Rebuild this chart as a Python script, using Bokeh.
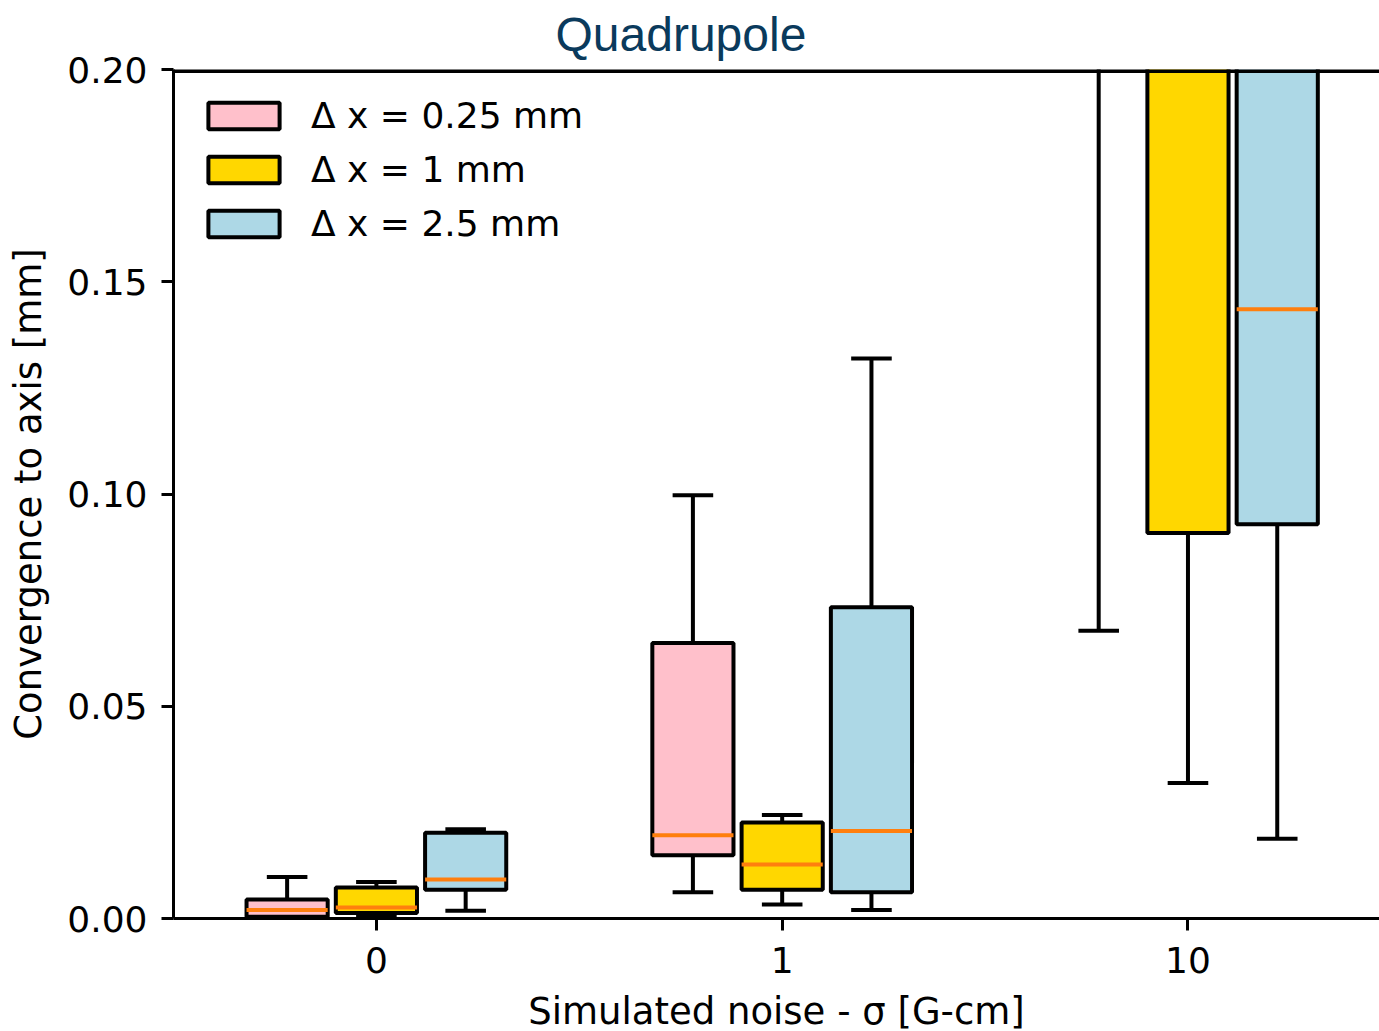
from bokeh.plotting import figure
from bokeh.models import (FixedTicker, PrintfTickFormatter, Legend, LegendItem, Span)
from bokeh.embed import file_html
from bokeh.resources import INLINE

# Noise levels on the x axis
categories = ["0", "1", "10"]

# Grid spacings (one box series each)
series_labels = ["\u0394 x = 0.25 mm", "\u0394 x = 1 mm", "\u0394 x = 2.5 mm"]
series_colors = ["pink", "gold", "lightblue"]

# Box statistics per series, one value per noise level [mm]
whislo_025 = [0.0001, 0.0062, 0.0678]
q1_025 = [0.0004, 0.0149, 0.2300]
med_025 = [0.0020, 0.0196, 0.2800]
q3_025 = [0.0045, 0.0649, 0.3600]
whishi_025 = [0.0098, 0.0997, 0.5200]

whislo_1 = [0.0004, 0.0033, 0.0319]
q1_1 = [0.0013, 0.0068, 0.0908]
med_1 = [0.0026, 0.0127, 0.2100]
q3_1 = [0.0073, 0.0226, 0.2900]
whishi_1 = [0.0086, 0.0244, 0.4200]

whislo_25 = [0.0018, 0.0020, 0.0188]
q1_25 = [0.0068, 0.0062, 0.0929]
med_25 = [0.0092, 0.0206, 0.1435]
q3_25 = [0.0202, 0.0733, 0.2600]
whishi_25 = [0.0210, 0.1319, 0.3800]

stats = [
    (whislo_025, q1_025, med_025, q3_025, whishi_025),
    (whislo_1, q1_1, med_1, q3_1, whishi_1),
    (whislo_25, q1_25, med_25, q3_25, whishi_25),
]

offsets = [-0.22, 0.0, 0.22]
box_w = 0.2
cap_w = 0.1
lw = 4
FONT = "DejaVu Sans"

p = figure(
    width=1379, height=1031,
    frame_width=1206, frame_height=849,
    x_range=(-0.5, 2.472), y_range=(0.0, 0.2),
    output_backend="svg", toolbar_location=None,
    min_border_left=173, min_border_right=0,
    min_border_top=69, min_border_bottom=113,
)
p.outline_line_color = None
p.grid.visible = False
p.background_fill_color = "white"
p.border_fill_color = "white"

legend_items = []
for k, (lo, q1, med, q3, hi) in enumerate(stats):
    xs = [i + offsets[k] for i in range(len(categories))]
    # whiskers
    p.segment(x0=xs, y0=q3, x1=xs, y1=hi, line_color="black", line_width=lw)
    p.segment(x0=xs, y0=q1, x1=xs, y1=lo, line_color="black", line_width=lw)
    # caps
    p.segment(x0=[x - cap_w / 2 for x in xs], y0=hi, x1=[x + cap_w / 2 for x in xs], y1=hi,
              line_color="black", line_width=lw)
    p.segment(x0=[x - cap_w / 2 for x in xs], y0=lo, x1=[x + cap_w / 2 for x in xs], y1=lo,
              line_color="black", line_width=lw)
    # boxes (interquartile range)
    mids = [(a + b) / 2 for a, b in zip(q1, q3)]
    spans = [b - a for a, b in zip(q1, q3)]
    r = p.rect(x=xs, y=mids, width=box_w, height=spans, fill_color=series_colors[k],
               line_color="black", line_width=lw)
    # medians
    p.segment(x0=[x - box_w / 2 for x in xs], y0=med, x1=[x + box_w / 2 for x in xs], y1=med,
              line_color="#ff7f0e", line_width=lw)
    legend_items.append(LegendItem(label=series_labels[k], renderers=[r]))

# top spine
p.add_layout(Span(location=0.2, dimension="width", line_color="black", line_width=7))

legend = Legend(items=legend_items, location="top_left")
legend.margin = 26
legend.padding = 0
legend.spacing = 13
legend.glyph_width = 89
legend.glyph_height = 33
legend.label_standoff = 23
legend.label_text_font = FONT
legend.label_text_font_size = "36px"
legend.label_text_color = "black"
legend.background_fill_alpha = 0
legend.border_line_color = None
p.add_layout(legend)

# bottom and left axes
xax = p.below[0]
yax = p.left[0]
xax.ticker = FixedTicker(ticks=list(range(len(categories))))
xax.major_label_overrides = {i: c for i, c in enumerate(categories)}
yax.ticker = FixedTicker(ticks=[0.0, 0.05, 0.10, 0.15, 0.20])
yax.formatter = PrintfTickFormatter(format="%.2f")
for ax in (xax, yax):
    ax.axis_line_width = 3
    ax.axis_line_color = "black"
    ax.major_tick_line_width = 3
    ax.major_tick_line_color = "black"
    ax.major_tick_out = 12
    ax.major_tick_in = 0
    ax.minor_tick_line_color = None
    ax.major_label_text_font = FONT
    ax.major_label_text_font_size = "36px"
    ax.major_label_text_color = "black"
    ax.axis_label_text_font = FONT
    ax.axis_label_text_font_size = "37px"
    ax.axis_label_text_font_style = "normal"
    ax.axis_label_text_color = "black"

xax.axis_label = "Simulated noise - \u03c3 [G-cm]"
yax.axis_label = "Convergence to axis [mm]"
xax.major_label_standoff = 16
xax.axis_label_standoff = 14
yax.major_label_standoff = 14
yax.axis_label_standoff = 14

p.title.text = "Quadrupole"
p.title.text_font = "Liberation Sans"
p.title.text_font_size = "48px"
p.title.text_font_style = "normal"
p.title.text_color = "#0a3a5c"
p.title.vertical_align = "top"
p.title.align = "left"
p.title.offset = 382
p.title.standoff = 13

open("out.html", "w").write(file_html(p, INLINE))
